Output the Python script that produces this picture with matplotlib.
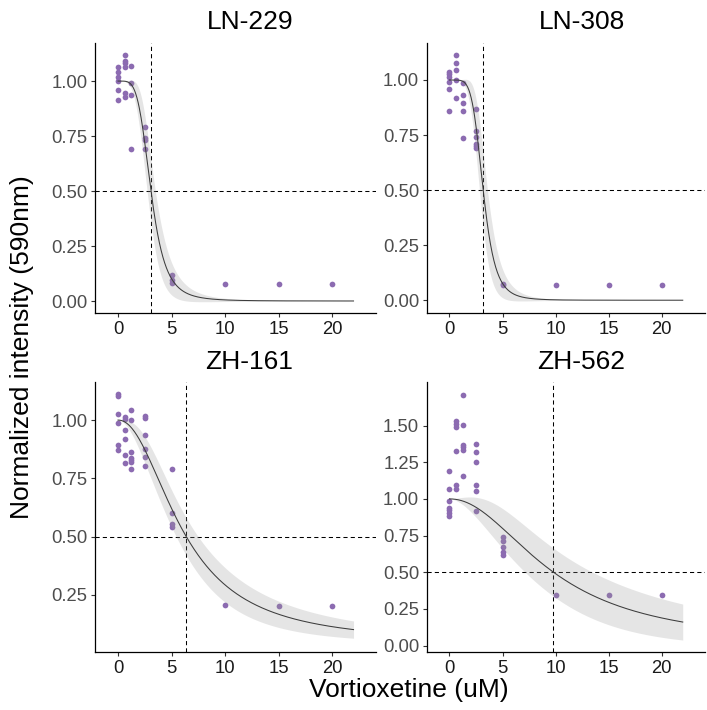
import numpy as np
import matplotlib
matplotlib.use("Agg")
import matplotlib.pyplot as plt

plt.rcParams['font.family'] = ['Liberation Sans', 'DejaVu Sans']

# ---- data -------------------------------------------------------------
cell_lines = ["LN-229", "LN-308", "ZH-161", "ZH-562"]

ln229_dose = [0] * 6 + [0.625] * 6 + [1.25] * 4 + [2.5] * 4 + [5] * 3 + [10, 15, 20]
ln229_resp = [1.065, 1.04, 1.02, 1.0, 0.96, 0.915,
              1.117, 1.089, 1.083, 1.062, 0.946, 0.926,
              1.067, 0.99, 0.938, 0.692,
              0.79, 0.74, 0.73, 0.69,
              0.118, 0.095, 0.08,
              0.076, 0.076, 0.076]

ln308_dose = [0] * 6 + [0.625] * 5 + [1.25] * 5 + [2.5] * 6 + [5] * 2 + [10, 15, 20]
ln308_resp = [1.038, 1.026, 1.015, 0.991, 0.958, 0.859,
              1.114, 1.077, 1.047, 1.0, 0.917,
              0.985, 0.932, 0.894, 0.861, 0.738,
              0.868, 0.77, 0.742, 0.71, 0.70, 0.69,
              0.072, 0.068,
              0.067, 0.067, 0.067]

zh161_dose = [0] * 6 + [0.625] * 6 + [1.25] * 7 + [2.5] * 6 + [5] * 4 + [10, 15, 20]
zh161_resp = [1.112, 1.104, 1.026, 0.986, 0.892, 0.871,
              1.014, 1.004, 0.957, 0.92, 0.851, 0.814,
              1.044, 0.999, 0.863, 0.836, 0.827, 0.821, 0.791,
              1.017, 1.01, 0.934, 0.878, 0.842, 0.803,
              0.791, 0.60, 0.554, 0.542,
              0.206, 0.203, 0.203]

zh562_dose = [0] * 7 + [0.625] * 6 + [1.25] * 6 + [2.5] * 6 + [5] * 5 + [10, 15, 20]
zh562_resp = [1.189, 1.066, 0.986, 0.939, 0.923, 0.907, 0.884,
              1.531, 1.514, 1.49, 1.327, 1.098, 1.066,
              1.711, 1.507, 1.366, 1.354, 1.332, 1.155,
              1.377, 1.32, 1.25, 1.098, 1.057, 0.918,
              0.74, 0.71, 0.67, 0.64, 0.62,
              0.346, 0.346, 0.343]

doses = [ln229_dose, ln308_dose, zh161_dose, zh562_dose]
responses = [ln229_resp, ln308_resp, zh161_resp, zh562_resp]

# log-logistic fit per cell line: lower asymptote, slope, inflection point,
# and the standard errors of slope and inflection used for the 95% band
fit_lower = [0.0, 0.0, 0.04, 0.0]
fit_slope = [4.5, 5.5, 2.1, 2.05]
fit_infl = [3.08, 3.18, 6.13, 9.81]
se_slope = [0.6, 0.7, 0.22, 0.4]
se_infl = [0.2, 0.2, 0.5, 1.6]

y_ticks = [[0, 0.25, 0.5, 0.75, 1.0],
           [0, 0.25, 0.5, 0.75, 1.0],
           [0.25, 0.5, 0.75, 1.0],
           [0, 0.25, 0.5, 0.75, 1.0, 1.25, 1.5]]
y_limits = [(-0.0545, 1.173), (-0.058, 1.168), (0.004, 1.162), (-0.046, 1.795)]
x_ticks = [0, 5, 10, 15, 20]
x_limits = (-2.15, 24.1)

# ---- figure -----------------------------------------------------------
W, H = 707, 710
fig = plt.figure(figsize=(W / 100, H / 100), dpi=100)

boxes = [(95, 43, 376, 313), (426.7, 43, 705, 313),
         (95, 382.3, 376, 652.3), (426.7, 382.3, 705, 652.3)]
title_x = [249.7, 582, 249, 581]
title_y = [22, 22, 362, 362]

point_col = '#8C6BB1'
xs = np.linspace(0.001, 22, 400)

for i, name in enumerate(cell_lines):
    l, t, r, b = boxes[i]
    ax = fig.add_axes([l / W, 1 - b / H, (r - l) / W, (b - t) / H])

    c, s, e = fit_lower[i], fit_slope[i], fit_infl[i]
    h = 1.0 / (1.0 + (xs / e) ** s)
    fit = c + (1 - c) * h
    d_slope = -(1 - c) * h * (1 - h) * np.log(xs / e)
    d_infl = (1 - c) * h * (1 - h) * s / e
    half = 1.96 * np.sqrt((d_slope * se_slope[i]) ** 2 + (d_infl * se_infl[i]) ** 2)
    x50 = e * ((1 - c) / (0.5 - c) - 1) ** (1 / s)

    ax.scatter(doses[i], responses[i], s=17, color=point_col, linewidths=0, zorder=2)
    ax.fill_between(xs, fit - half, fit + half, color='#999999', alpha=0.25,
                    linewidth=0, zorder=3)
    ax.plot(xs, fit, color='#3c3c3c', lw=0.75, zorder=4)
    ax.axhline(0.5, color='black', lw=0.75, ls=(0, (4, 3)), zorder=1)
    ax.axvline(x50, color='black', lw=0.75, ls=(0, (4, 3)), zorder=1)

    ax.set_xlim(*x_limits)
    ax.set_ylim(*y_limits[i])
    ax.set_xticks(x_ticks)
    ax.set_yticks(y_ticks[i])
    ax.set_yticklabels([f"{v:.2f}" for v in y_ticks[i]])

    for side in ('top', 'right'):
        ax.spines[side].set_visible(False)
    for side in ('left', 'bottom'):
        ax.spines[side].set_linewidth(0.9)
        ax.spines[side].set_color('black')
    ax.tick_params(axis='both', length=3, width=0.8, color='#333333',
                   labelsize=13.3, pad=2.5)
    ax.tick_params(axis='y', labelcolor='#4D4D4D')
    ax.tick_params(axis='x', labelcolor='#1a1a1a')
    ax.patch.set_alpha(0)

    fig.text(title_x[i] / W, 1 - title_y[i] / H, name, fontsize=19,
             ha='center', va='center', color='black')

fig.text(409 / W, 1 - 690 / H, "Vortioxetine (uM)", fontsize=19,
         ha='center', va='center')
fig.text(22.5 / W, 1 - 347 / H, "Normalized intensity (590nm)", fontsize=19,
         ha='center', va='center', rotation=90)

fig.savefig("out.png", dpi=100)
